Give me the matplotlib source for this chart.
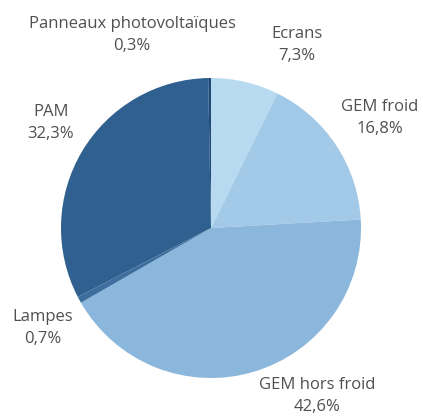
import matplotlib
matplotlib.use("Agg")
import matplotlib.pyplot as plt

# parts of the total, clockwise from 12 o'clock
labels = ["Ecrans", "GEM froid", "GEM hors froid", "Lampes", "PAM", "Panneaux photovoltaïques"]
shares = [7.3, 16.8, 42.6, 0.7, 32.3, 0.3]
colors = ["#b8daf0", "#a2c9e8", "#8cb7dc", "#3e6e9e", "#30608f", "#1f4a78"]

# label anchor positions (pixels from top-left)
label_pos = {
    "Ecrans": (297, 45),
    "GEM froid": (380, 118),
    "GEM hors froid": (317, 396),
    "Lampes": (43, 328),
    "PAM": (51, 123),
    "Panneaux photovoltaïques": (132, 35),
}

W, H = 423, 419
fig = plt.figure(figsize=(W / 100, H / 100), dpi=100)
ax = fig.add_axes([0, 0, 1, 1])

ax.pie(shares, colors=colors, center=(211, H - 228), radius=150,
       startangle=90, counterclock=False, frame=True,
       wedgeprops={"linewidth": 0})
ax.set_xlim(0, W)
ax.set_ylim(0, H)
ax.set_aspect("equal")
ax.axis("off")

for name, val in zip(labels, shares):
    x, y = label_pos[name]
    txt = name + "\n" + ("%.1f%%" % val).replace(".", ",")
    ax.text(x, H - y, txt, ha="center", va="center", fontsize=12,
            family="Open Sans", color="#505050", linespacing=1.45)

fig.savefig("out.png", dpi=100)
